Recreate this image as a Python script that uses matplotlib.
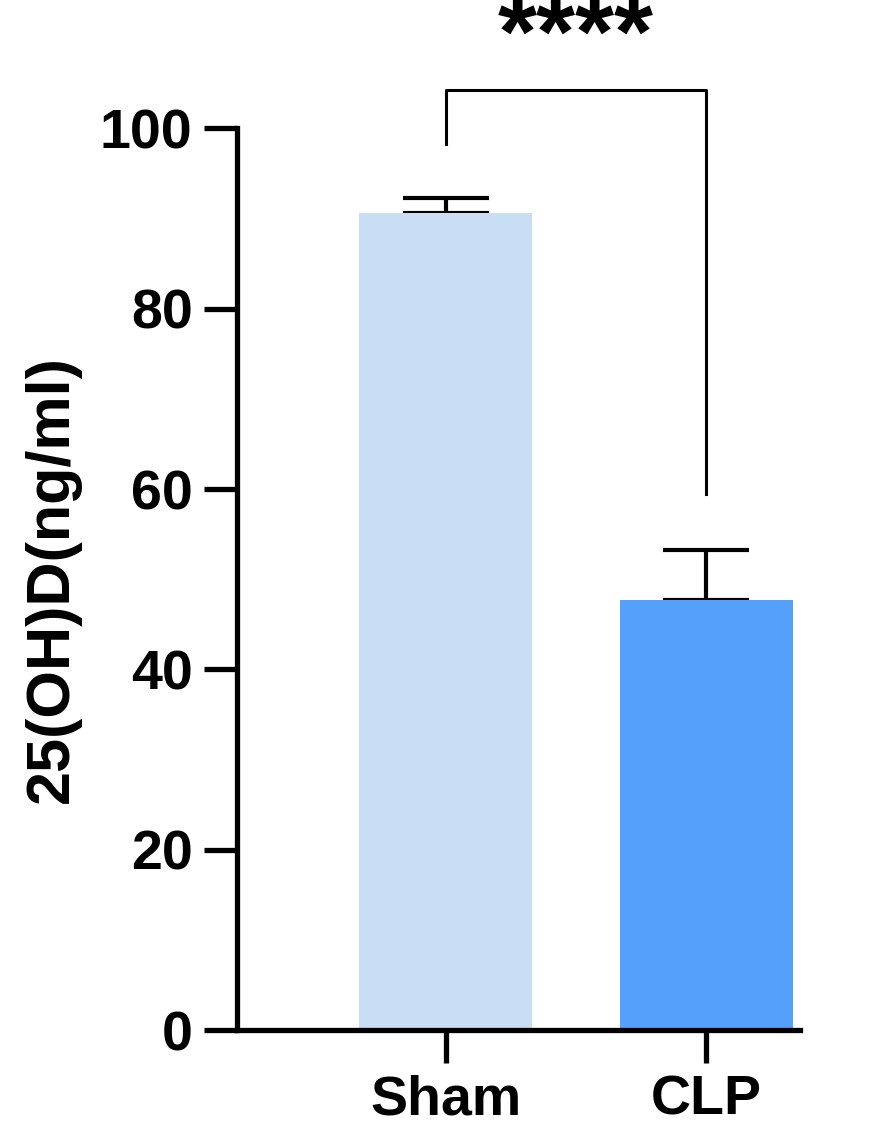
import matplotlib
matplotlib.use("Agg")
import matplotlib.pyplot as plt

groups = ["Sham", "CLP"]
means = [90.6, 47.7]
errs = [1.7, 5.6]
colors = ["#C9DDF5", "#55A0FA"]
yticks = [0, 20, 40, 60, 80, 100]
sig = "****"

plt.rcParams['font.family'] = ['Liberation Sans', 'DejaVu Sans']
fig = plt.figure(figsize=(8.86, 11.46), dpi=100)
ax = fig.add_axes([0.2675, 0.101, 0.6355, 0.787])
x = list(range(len(groups)))
ax.bar(x, means, width=0.665, color=colors, zorder=2)
ax.errorbar(x, means, yerr=[[0]*len(errs), errs], fmt='none', ecolor='black',
            elinewidth=3.0, capsize=31, capthick=3.0, zorder=1)
ax.set_ylim(0, 100)
ax.set_xlim(-0.8, 1.36)
ax.set_yticks(yticks)
ax.set_xticks(x)
ax.set_xticklabels(groups)
for s in ['top', 'right']:
    ax.spines[s].set_visible(False)
for s in ['left', 'bottom']:
    ax.spines[s].set_linewidth(3.8)
ax.tick_params(width=3.8, length=24, labelsize=40, pad=8)
for lab in ax.get_xticklabels() + ax.get_yticklabels():
    lab.set_fontweight('bold')
ax.set_ylabel("25(OH)D(ng/ml)", fontsize=44, fontweight='bold', labelpad=14)
# significance bracket
ytop = 104.3
ax.plot([0, 0, 1, 1], [98.3, ytop, ytop, 59.5], color='black', lw=2.2, clip_on=False)
ax.text(0.5, ytop + 0.3, sig, ha='center', va='bottom', fontsize=72, fontweight='bold')
fig.savefig("out.png", dpi=100)
